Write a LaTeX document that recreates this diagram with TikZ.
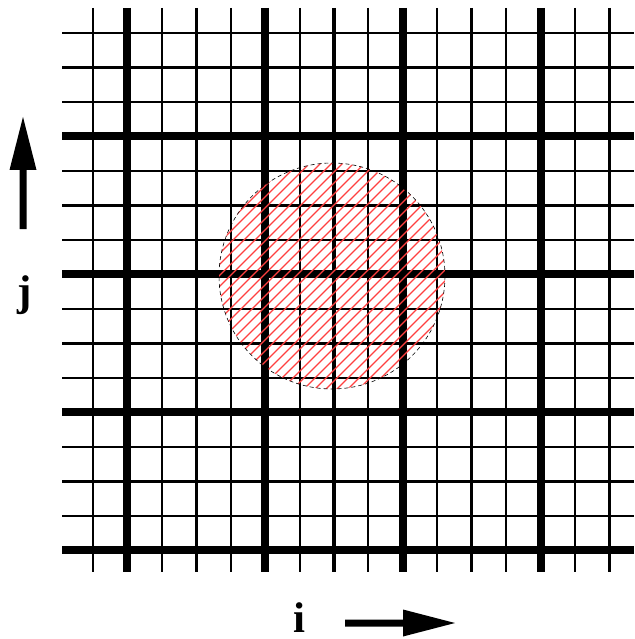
\documentclass[tikz,border=0pt]{standalone}
\usepackage{fontspec}
\setmainfont{Liberation Serif}
\begin{document}
\begin{tikzpicture}[x=1pt,y=-1pt,
  thinline/.style={line width=2pt},
  medline/.style={line width=3.2pt},
  thickline/.style={line width=8pt},
  hatch/.style={red!75, line width=1.1pt},
  rim/.style={line width=0.6pt, dash pattern=on 4pt off 3pt},
  lbl/.style={font=\fontsize{43}{43}\selectfont\bfseries, inner sep=0pt}]
\useasboundingbox (0,0) rectangle (634,639);
% grid
\foreach \k in {0,...,15}{
  \pgfmathtruncatemacro{\m}{mod(\k,4)}
  \pgfmathsetmacro{\xx}{93+34.43*\k}
  \pgfmathsetmacro{\yy}{33+34.47*\k}
  \ifnum\m=1
    \draw[thickline] (\xx,8) -- (\xx,572);
    \draw[medline] (62,\yy) -- (634,\yy);
  \else\ifnum\m=3
    \draw[medline] (\xx,8) -- (\xx,572);
    \draw[thickline] (62,\yy) -- (634,\yy);
  \else
    \draw[thinline] (\xx,8) -- (\xx,572);
    \draw[thinline] (62,\yy) -- (634,\yy);
  \fi\fi
}
% hatched circle
\coordinate (c) at (332,276);
\begin{scope}
  \clip (c) circle[radius=113];
  \foreach \cc in {440,451,...,790}{
    \draw[hatch] (200,\cc-200) -- (470,\cc-470);
  }
\end{scope}
\draw[rim] (c) circle[radius=113];
% arrows
\fill (19.5,229) -- (19.5,170) -- (9.5,170) -- (23,117) -- (36.5,170) -- (26.5,170) -- (26.5,229) -- cycle;
\fill (345,619.5) -- (403,619.5) -- (403,609.5) -- (455,623) -- (403,636.5) -- (403,626.5) -- (345,626.5) -- cycle;
% labels
\node[lbl] (j) at (25,295) {j};
\node[lbl] (i) at (299,618) {i};
\end{tikzpicture}
\end{document}
